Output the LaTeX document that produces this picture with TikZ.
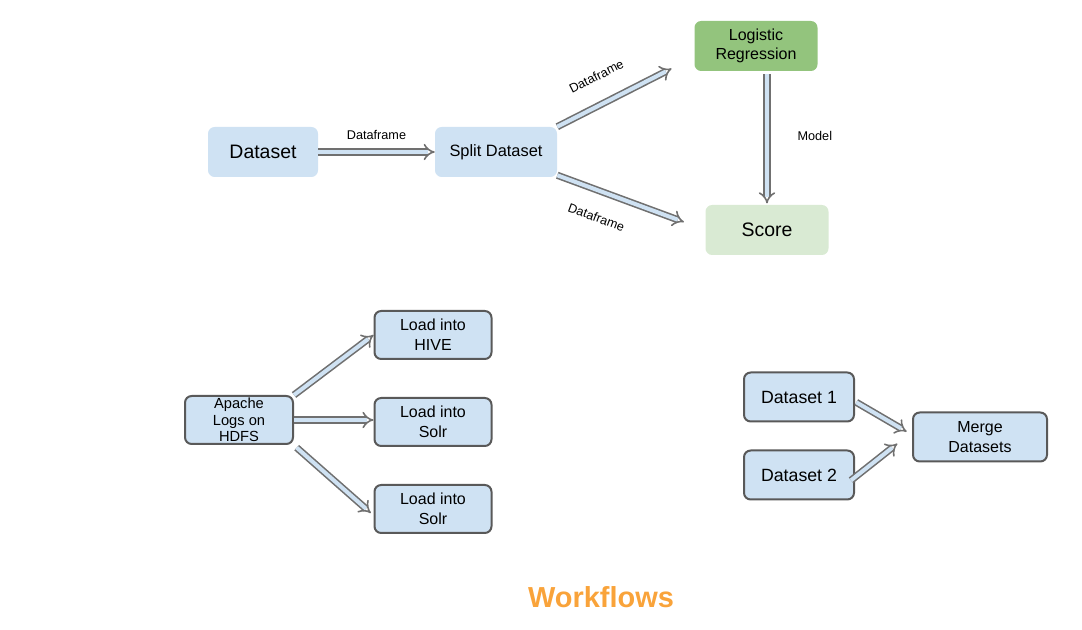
\documentclass[tikz,border=0pt]{standalone}
\usepackage{fontspec}
\setmainfont{Liberation Sans}
\usetikzlibrary{arrows.meta}
\definecolor{lightblue}{HTML}{CFE2F3}
\definecolor{darkgreen}{HTML}{93C47D}
\definecolor{palegreen}{HTML}{D9EAD3}
\definecolor{boxgray}{HTML}{595959}
\definecolor{pipegray}{HTML}{707070}
\definecolor{titleorange}{HTML}{F9A33A}
\tikzset{
  topbox/.style = {fill=lightblue, rounded corners=5pt, inner sep=0pt, minimum height=37.5pt, align=center},
  flowbox/.style = {fill=lightblue, draw=boxgray, line width=1.5pt, rounded corners=5pt, inner sep=0pt, align=center, font=\fontsize{12}{15}\selectfont},
  pipe/.style = {draw=pipegray, line width=1.2pt, double=lightblue, double distance=3pt, -{Implies}},
  lbl/.style = {font=\fontsize{9.5}{11}\selectfont}
}

\begin{document}
\begin{tikzpicture}[x=0.75pt, y=-0.75pt]
    \useasboundingbox (0,0) rectangle (1082,630);
    \node[topbox, minimum width=82.5pt, font=\fontsize{14.6}{17}\selectfont] (dataset) at (263,152) {Dataset};
    \node[topbox, minimum width=91.5pt, font=\fontsize{12.3}{15}\selectfont] (split) at (496,152) {Split Dataset};
    \node[topbox, fill=darkgreen, minimum width=92.25pt, font=\fontsize{12}{14.5}\selectfont] (lr) at (756,46) {Logistic\\Regression};
    \node[topbox, fill=palegreen, minimum width=92.25pt, font=\fontsize{14.6}{17}\selectfont] (score) at (767,230) {Score};
    \draw[pipe] (dataset.east) -- (split.west) node[lbl, midway, above=5pt] {Dataframe};
    \draw[pipe] (split.north east) -- ([xshift=-17pt, yshift=2pt]lr.south west) node[lbl, pos=0.45, sloped, above=13pt] {Dataframe};
    \draw[pipe] ([yshift=1.5pt]split.south east) -- ([xshift=-16pt, yshift=6pt]score.west) node[lbl, pos=0.38, sloped, below=12pt] {Dataframe};
    \draw[pipe] ([yshift=-2pt]lr.south -| score.north) -- ([yshift=1pt]score.north) node[lbl, midway, right=19pt, yshift=2pt] {Model};

    \node[flowbox, minimum width=81pt, minimum height=36pt, font=\fontsize{11}{12.4}\selectfont] (apache) at (239,420) {Apache\\Logs on\\HDFS};
    \node[flowbox, minimum width=87.75pt, minimum height=36pt] (hive) at (433,335) {Load into\\HIVE};
    \node[flowbox, minimum width=87.75pt, minimum height=36pt] (solr) at (433,422) {Load into\\Solr};
    \node[flowbox, minimum width=87.75pt, minimum height=36pt] (solrb) at (433,509) {Load into\\Solr};
    \draw[pipe] (apache.north east) -- (hive.west);
    \draw[pipe] (apache.east) -- (apache.east -| solr.west);
    \draw[pipe] ([xshift=2pt, yshift=-2pt]apache.south east) -- ([xshift=-2pt, yshift=-3pt]solrb.west);

    \node[flowbox, minimum width=82.5pt, minimum height=36.75pt, font=\fontsize{13.3}{16}\selectfont] (d1) at (799,397) {Dataset 1};
    \node[flowbox, minimum width=82.5pt, minimum height=36.75pt, font=\fontsize{13.3}{16}\selectfont] (d2) at (799,475) {Dataset 2};
    \node[flowbox, minimum width=100.5pt, minimum height=36.75pt] (merge) at (980,437) {Merge\\Datasets};
    \draw[pipe] ([xshift=1pt, yshift=-4pt]d1.east) -- ([xshift=-4pt, yshift=4pt]merge.west);
    \draw[pipe] ([xshift=-3pt, yshift=-4pt]d2.east) -- ([xshift=-11pt, yshift=-5pt]merge.west);

    \node[font=\fontsize{21.7}{26}\selectfont\bfseries, text=titleorange] (title) at (601,597) {Workflows};
\end{tikzpicture}
\end{document}
